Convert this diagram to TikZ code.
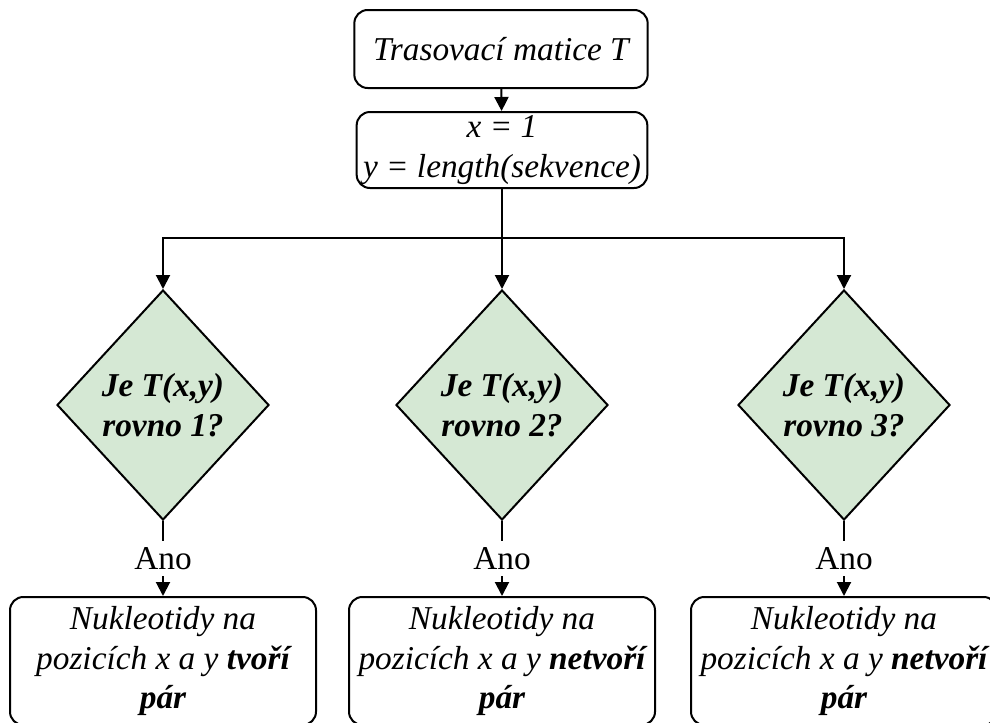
\documentclass[tikz,border=0pt]{standalone}
\usepackage{fontspec}
\setmainfont{Liberation Serif}
\usetikzlibrary{shapes.geometric,arrows.meta}
\begin{document}
\begin{tikzpicture}[x=0.75pt,y=-0.75pt,line width=1.5pt,
		font=\fontsize{25}{29.5}\selectfont,
		arr/.style={-{Triangle[width=10.5pt,length=10.5pt]}},
		box/.style={draw,rounded corners=10pt,align=center,inner sep=0pt,font=\fontsize{25}{29.5}\selectfont\itshape},
		question/.style={draw,diamond,fill=qgreen,minimum width=159pt,minimum height=172.5pt,inner sep=0pt,align=center,font=\fontsize{25}{29.5}\selectfont\bfseries\itshape},
		yes/.style={fill=white,inner xsep=2pt,inner ysep=5pt,font=\fontsize{25}{29.5}\selectfont}]
	\definecolor{qgreen}{HTML}{D5E8D4}
	\useasboundingbox (0,0) rectangle (990,722);
	% start
	\node[box,minimum width=220pt,minimum height=58.5pt] (matrix) at (501,49) {Trasovací matice T};
	\node[box,minimum width=218pt,minimum height=57pt] (init) at (502,150) {x = 1\\y = length(sekvence)};
	\coordinate (split) at (502,238);
	% decisions
	\node[question] (q1) at (163,405) {Je T(x,y)\\rovno 1?};
	\node[question] (q2) at (502,405) {Je T(x,y)\\rovno 2?};
	\node[question] (q3) at (844,405) {Je T(x,y)\\rovno 3?};
	% results
	\node[box,minimum width=229.5pt,minimum height=96pt] (r1) at (163,661) {Nukleotidy na\\pozicích x a y \textbf{tvoří}\\\textbf{pár}};
	\node[box,minimum width=229.5pt,minimum height=96pt] (r2) at (502,661) {Nukleotidy na\\pozicích x a y \textbf{netvoří}\\\textbf{pár}};
	\node[box,minimum width=229.5pt,minimum height=96pt] (r3) at (844,661) {Nukleotidy na\\pozicích x a y \textbf{netvoří}\\\textbf{pár}};
	% connectors
	\draw[arr] (matrix) -- (init);
	\draw[arr] (init) -- (q2);
	\draw[arr] (init) -- (split) -| (q1.north);
	\draw[arr] (split) -| (q3.north);
	\foreach \i in {1,2,3}
	\draw[arr] (q\i.south) -- node[yes] {Ano} (r\i.north);
\end{tikzpicture}
\end{document}
